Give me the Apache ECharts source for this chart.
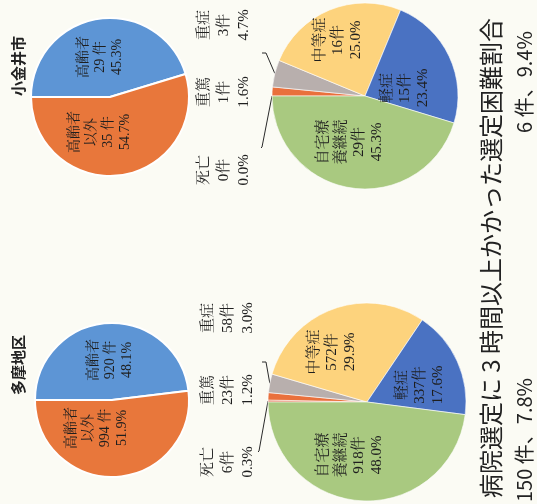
<!DOCTYPE html>
<html><head><meta charset="utf-8">
<script src="https://cdn.jsdelivr.net/npm/echarts@6/dist/echarts.min.js"></script>
<style>html,body{margin:0;padding:0;background:#fbfbf4;} #chart{width:537px;height:504px;}</style>
</head><body><div id="chart"></div>
<script>
// ---- data ----
const regionNames = ['多摩地区', '小金井市'];
const ageCategories = ['高齢者', '高齢者以外'];
const ageCountsTama = [920, 994];
const agePctTama = [48.1, 51.9];
const ageCountsKoganei = [29, 35];
const agePctKoganei = [45.3, 54.7];
const severityCategories = ['死亡', '重篤', '重症', '中等症', '軽症', '自宅療養継続'];
const severityCountsTama = [6, 23, 58, 572, 337, 918];
const severityPctTama = [0.3, 1.2, 3.0, 29.9, 17.6, 48.0];
const severityCountsKoganei = [0, 1, 3, 16, 15, 29];
const severityPctKoganei = [0.0, 1.6, 4.7, 25.0, 23.4, 45.3];
const difficultyTitle = '病院選定に 3 時間以上かかった選定困難割合';
const difficultyCounts = [150, 6];
const difficultyPct = [7.8, 9.4];

// ---- style / layout ----
const ageColors = ['#5d95d5', '#e8773b'];
const sevColors = ['#e0603a', '#e9703c', '#b8afad', '#fdd37d', '#4a72c2', '#a9c980'];
const serifFont = "'Liberation Serif','Noto Serif CJK JP','Noto Sans CJK JP',serif";
const sansFont = "'Noto Sans CJK JP','Noto Sans',sans-serif";
const outsideIdx = [0, 1, 2];
const labelPos = {
  ageTama: [[110, 360], [97, 428]],
  ageKoganei: [[100, 57], [100, 132]],
  sevTama: [[228, 462], [228, 390], [228, 318], [332, 352], [420, 385], [350, 455]],
  sevKoganei: [[224, 170], [224, 92], [224, 25], [338, 40], [405, 88], [350, 142]]
};
// leader-line start offsets relative to the label centre (only for 死亡 and 重症)
const leaderStart = {
  sevTama: { 0: [30, -10], 2: [34, 44] },
  sevKoganei: { 0: [37, -22], 2: [38, 28] }
};

function wrapName(n) {
  if (n === '高齢者以外') return '高齢者\n以外';
  if (n === '自宅療養継続') return '自宅療\n養継続';
  return n;
}
function ageData(counts, pcts) {
  return ageCategories.map((c, i) => ({
    name: c, value: counts[i],
    itemStyle: { color: ageColors[i] },
    label: { formatter: wrapName(c) + '\n' + counts[i] + ' 件\n' + pcts[i].toFixed(1) + '%' }
  }));
}
function sevData(counts, pcts) {
  return severityCategories.map((c, i) => {
    const outside = outsideIdx.indexOf(i) >= 0;
    return {
      name: c, value: counts[i],
      itemStyle: { color: sevColors[i] },
      label: {
        position: outside ? 'outside' : 'inside',
        fontSize: 15,
        lineHeight: outside ? 20 : 18,
        formatter: wrapName(c) + '\n' + counts[i] + '件\n' + pcts[i].toFixed(1) + '%'
      },
      labelLine: { show: i === 0 || i === 2 }
    };
  });
}
function layoutFn(key) {
  return function (p) {
    const pos = labelPos[key][p.dataIndex];
    const res = { x: pos[0], y: pos[1], align: 'center', verticalAlign: 'middle', hideOverlap: false };
    const ls = leaderStart[key] && leaderStart[key][p.dataIndex];
    if (ls && p.labelLinePoints) {
      const target = p.labelLinePoints[0];
      const s = [pos[0] + ls[0], pos[1] + ls[1]];
      res.labelLinePoints = p.dataIndex === 2
        ? [s, [s[0] + 4, s[1]], target]
        : [s, [s[0] + 1, s[1] - 1], target];
    }
    return res;
  };
}
function pieSeries(name, center, radius, data, key, border) {
  return {
    type: 'pie', name: name, center: center, radius: radius,
    startAngle: 180, clockwise: true, avoidLabelOverlap: false, animation: false,
    silent: true,
    itemStyle: { borderColor: '#ffffff', borderWidth: border },
    label: { show: true, position: 'inside', rotate: 90, color: '#1e1e1e',
      fontSize: 14, lineHeight: 17, fontFamily: serifFont, align: 'center' },
    labelLine: { show: false, lineStyle: { color: '#2a2a2a', width: 1 }, length: 8, length2: 6, smooth: false },
    labelLayout: layoutFn(key),
    data: data
  };
}

const chart = echarts.init(document.getElementById('chart'), null, { renderer: 'canvas' });
const rot = Math.PI / 2;
function vtext(x, y, text, size, weight, font) {
  return { type: 'text', x: x, y: y, rotation: rot, silent: true,
    style: { text: text, fontSize: size, fontWeight: weight, fontFamily: font,
      fill: '#222', align: 'center', verticalAlign: 'middle' } };
}
chart.setOption({
  backgroundColor: '#fbfbf4',
  series: [
    pieSeries(regionNames[0] + '年齢', [112, 400], 77, ageData(ageCountsTama, agePctTama), 'ageTama', 2),
    pieSeries(regionNames[1] + '年齢', [110, 97], 79, ageData(ageCountsKoganei, agePctKoganei), 'ageKoganei', 2),
    pieSeries(regionNames[0] + '程度', [367, 402], 99, sevData(severityCountsTama, severityPctTama), 'sevTama', 0.6),
    pieSeries(regionNames[1] + '程度', [365, 96], 93, sevData(severityCountsKoganei, severityPctKoganei), 'sevKoganei', 0.6)
  ],
  graphic: [
    vtext(18, 365, regionNames[0], 15, 'bold', sansFont),
    vtext(18, 66, regionNames[1], 15, 'bold', sansFont),
    vtext(491, 258, difficultyTitle, 24, 'normal', sansFont),
    vtext(524, 440, difficultyCounts[0] + ' 件、' + difficultyPct[0].toFixed(1) + '%', 20, 'normal', sansFont),
    vtext(524, 82, difficultyCounts[1] + ' 件、' + difficultyPct[1].toFixed(1) + '%', 20, 'normal', sansFont)
  ]
});
</script></body></html>
